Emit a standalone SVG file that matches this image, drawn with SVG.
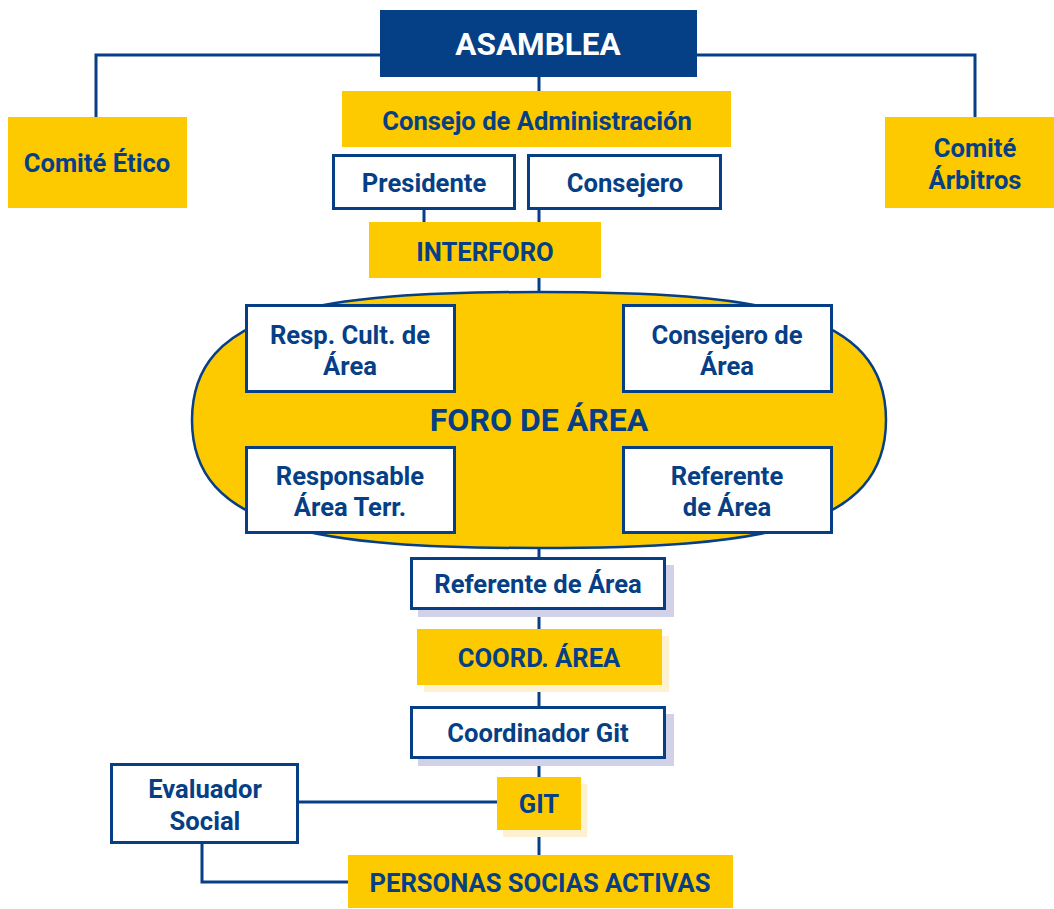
<svg xmlns="http://www.w3.org/2000/svg" width="1054" height="909" viewBox="0 0 1054 909">
<style>
.t{font-family:Roboto,"Liberation Sans",sans-serif;font-weight:bold;fill:#063f85;text-anchor:middle;dominant-baseline:central;font-size:25.6px}
.y{fill:#fdca00}
.w{fill:#fff;stroke:#063f85;stroke-width:3}
.c{fill:none;stroke:#063f85;stroke-width:3}
.sl{fill:#d1d2e8}
.sy{fill:#fdf1cf}
</style>
<rect width="1054" height="909" fill="#fff"/>
<g id="connectors">
<polyline class="c" points="380,55 96,55 96,117"/>
<polyline class="c" points="697,55 975,55 975,117"/>
<line class="c" x1="539" y1="77" x2="539" y2="91"/>
<line class="c" x1="424" y1="209" x2="424" y2="222"/>
<line class="c" x1="539" y1="209" x2="539" y2="222"/>
<line class="c" x1="539" y1="278" x2="539" y2="292"/>
<line class="c" x1="539" y1="548" x2="539" y2="557"/>
<line class="c" x1="539" y1="609" x2="539" y2="629"/>
<line class="c" x1="539" y1="685" x2="539" y2="706"/>
<line class="c" x1="539" y1="758" x2="539" y2="777"/>
<line class="c" x1="539" y1="830" x2="539" y2="855"/>
<line class="c" x1="298" y1="802" x2="497" y2="802"/>
<polyline class="c" points="202,843 202,882 348,882"/>
</g>
<g id="asamblea"><rect x="380" y="10" width="317" height="67" fill="#053f85"/><text class="t" x="538" y="44" style="fill:#fff;font-size:31.5px">ASAMBLEA</text></g>
<g id="comite-etico"><rect class="y" x="8" y="117" width="179" height="91"/><text class="t" x="97" y="163">Comité Ético</text></g>
<g id="comite-arbitros"><rect class="y" x="885" y="117" width="169" height="91"/><text class="t" x="975" y="148">Comité</text><text class="t" x="975" y="180">Árbitros</text></g>
<g id="consejo"><rect class="y" x="342" y="91" width="389" height="56"/><text class="t" x="537" y="121">Consejo de Administración</text></g>
<g id="presidente"><rect class="w" x="333.5" y="155.5" width="181" height="53"/><text class="t" x="424" y="183">Presidente</text></g>
<g id="consejero"><rect class="w" x="528.5" y="155.5" width="192" height="53"/><text class="t" x="625" y="183">Consejero</text></g>
<g id="interforo"><rect class="y" x="369" y="222" width="232" height="56"/><text class="t" x="485" y="252">INTERFORO</text></g>
<g id="foro">
<path d="M 539 292 C 760 292 886 310 886 420 C 886 530 760 548 539 548 C 318 548 192 530 192 420 C 192 310 318 292 539 292 Z" fill="#fdca00" stroke="#063f85" stroke-width="2.5"/>
<text class="t" x="539" y="420" style="font-size:32px">FORO DE ÁREA</text>
</g>
<g id="resp-cult"><rect class="w" x="246.5" y="305.5" width="208" height="86"/><text class="t" x="350" y="335">Resp. Cult. de</text><text class="t" x="350" y="366">Área</text></g>
<g id="consejero-area"><rect class="w" x="623.5" y="305.5" width="208" height="86"/><text class="t" x="727" y="335">Consejero de</text><text class="t" x="727" y="366">Área</text></g>
<g id="responsable-terr"><rect class="w" x="246.5" y="447.5" width="208" height="85"/><text class="t" x="350" y="476">Responsable</text><text class="t" x="350" y="507">Área Terr.</text></g>
<g id="referente-area-foro"><rect class="w" x="623.5" y="447.5" width="208" height="85"/><text class="t" x="727" y="476">Referente</text><text class="t" x="727" y="507">de Área</text></g>
<g id="referente-area"><rect class="sl" x="418" y="565" width="256" height="52"/><rect class="w" x="411.5" y="558.5" width="253" height="50"/><text class="t" x="538" y="584">Referente de Área</text></g>
<g id="coord-area"><rect class="sy" x="424" y="636" width="245" height="56"/><rect class="y" x="417" y="629" width="245" height="56"/><text class="t" x="539" y="658">COORD. ÁREA</text></g>
<g id="coordinador-git"><rect class="sl" x="418" y="714" width="256" height="52"/><rect class="w" x="411.5" y="707.5" width="253" height="50"/><text class="t" x="538" y="733">Coordinador Git</text></g>
<g id="git"><rect class="sy" x="503" y="784" width="84" height="53"/><rect class="y" x="497" y="777" width="84" height="53"/><text class="t" x="539" y="804">GIT</text></g>
<g id="evaluador"><rect class="w" x="111.5" y="764.5" width="186" height="78"/><text class="t" x="205" y="789">Evaluador</text><text class="t" x="205" y="821">Social</text></g>
<g id="personas"><rect class="y" x="348" y="855" width="385" height="53"/><text class="t" x="540" y="883">PERSONAS SOCIAS ACTIVAS</text></g>
</svg>
